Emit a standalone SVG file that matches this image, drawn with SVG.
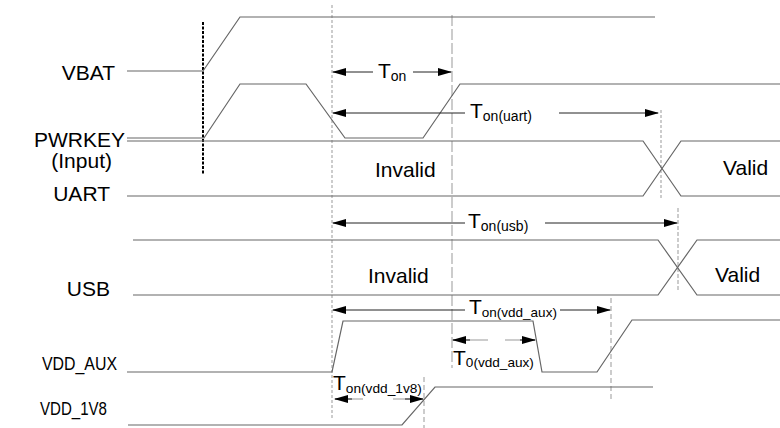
<svg xmlns="http://www.w3.org/2000/svg" width="780" height="428" viewBox="0 0 780 428">
<style>
.lbl{font-family:"Liberation Sans",Arial,sans-serif;font-size:21px;fill:#000}
.sub{font-size:14px}
.sig{fill:none;stroke:#666;stroke-width:1.2}
.dim{fill:none;stroke:#222;stroke-width:1}
.vd{fill:none;stroke:#999;stroke-width:1}
</style>
<defs>
<marker id="ah" viewBox="0 0 14 8" refX="13" refY="4" markerWidth="14" markerHeight="8" markerUnits="userSpaceOnUse" orient="auto-start-reverse">
<path d="M0,0 L14,4 L0,8 z" fill="#000"/>
</marker>
</defs>
<rect width="780" height="428" fill="#fff"/>

<g id="guides">
<line x1="203" y1="22" x2="203" y2="174" stroke="#000" stroke-width="2" stroke-dasharray="3 1.5"/>
<line class="vd" x1="332" y1="5" x2="332" y2="418" stroke="#bbb" stroke-dasharray="3 2"/>
<line class="vd" x1="452" y1="15" x2="452" y2="368" stroke="#777" stroke-dasharray="11 3"/>
<line class="vd" x1="661" y1="110" x2="661" y2="200" stroke="#aaa" stroke-dasharray="3 2"/>
<line class="vd" x1="678" y1="208" x2="678" y2="290" stroke="#888" stroke-dasharray="4 2"/>
<line class="vd" x1="611" y1="298" x2="611" y2="400" stroke="#777" stroke-dasharray="5 3"/>
<line class="vd" x1="424" y1="377" x2="424" y2="428" stroke="#777" stroke-dasharray="5 3"/>
</g>

<g id="vbat">
<text class="lbl" x="115" y="80" text-anchor="end">VBAT</text>
<polyline class="sig" points="127,71 203,71 240,17 655,17"/>
</g>

<g id="pwrkey">
<text class="lbl" x="125" y="147" text-anchor="end">PWRKEY</text>
<text class="lbl" x="112" y="168" text-anchor="end">(Input)</text>
<polyline class="sig" points="127,138 204,138 240,84 306,84 345,138 423,138 460,84 780,84"/>
</g>

<g id="uart">
<text class="lbl" x="110" y="201" text-anchor="end">UART</text>
<polyline class="sig" points="127,141 643,141 681,196 780,196"/>
<polyline class="sig" points="127,196 643,196 681,141 780,141"/>
<text class="lbl" x="375" y="177">Invalid</text>
<text class="lbl" x="723" y="175">Valid</text>
</g>

<g id="usb">
<text class="lbl" x="110" y="296" text-anchor="end">USB</text>
<polyline class="sig" points="133,240 658,240 697,295 780,295"/>
<polyline class="sig" points="133,295 658,295 697,240 780,240"/>
<text class="lbl" x="368" y="283">Invalid</text>
<text class="lbl" x="715" y="282">Valid</text>
</g>

<g id="vdd_aux">
<text class="lbl" x="42" y="370" textLength="75" lengthAdjust="spacingAndGlyphs" style="font-size:19px">VDD_AUX</text>
<polyline class="sig" points="127,372 332,372 343,321 533,321 542,372 597,372 632,320 780,320"/>
</g>

<g id="vdd_1v8">
<text class="lbl" x="40" y="415" textLength="67" lengthAdjust="spacingAndGlyphs" style="font-size:17.5px">VDD_1V8</text>
<polyline class="sig" points="128,425 402,425 435,387 653,387"/>
</g>

<g id="connectors">
<line class="dim" x1="373" y1="72" x2="333" y2="72" marker-end="url(#ah)"/>
<line class="dim" x1="413" y1="72" x2="451" y2="72" marker-end="url(#ah)"/>
<line class="dim" x1="465" y1="113" x2="333" y2="113" marker-end="url(#ah)"/>
<line class="dim" x1="559" y1="113" x2="658" y2="113" marker-end="url(#ah)"/>
<line class="dim" x1="465" y1="223" x2="333" y2="223" marker-end="url(#ah)"/>
<line class="dim" x1="545" y1="223" x2="677" y2="223" marker-end="url(#ah)"/>
<line class="dim" x1="465" y1="310" x2="333" y2="310" marker-end="url(#ah)"/>
<line class="dim" x1="560" y1="310" x2="610" y2="310" marker-end="url(#ah)"/>
<line x1="453" y1="340" x2="535" y2="340" stroke="#999" stroke-width="1" stroke-dasharray="35 17"/>
<line class="dim" x1="470" y1="340" x2="453" y2="340" marker-end="url(#ah)"/>
<line class="dim" x1="520" y1="340" x2="535" y2="340" marker-end="url(#ah)"/>
<line x1="335" y1="399" x2="423" y2="399" stroke="#999" stroke-width="1" stroke-dasharray="28 30"/>
<line class="dim" x1="352" y1="399" x2="335" y2="399" marker-end="url(#ah)"/>
<line class="dim" x1="405" y1="399" x2="423" y2="399" marker-end="url(#ah)"/>
</g>

<g id="labels">
<text class="lbl" x="378" y="78">T<tspan class="sub" dy="3">on</tspan></text>
<text class="lbl" x="470" y="118">T<tspan class="sub" dy="3">on(uart)</tspan></text>
<text class="lbl" x="468" y="228">T<tspan class="sub" dy="3">on(usb)</tspan></text>
<text class="lbl" x="469" y="314">T<tspan class="sub" dy="3" style="font-size:13.5px">on(vdd_aux)</tspan></text>
<text class="lbl" x="453" y="365">T<tspan class="sub" dy="2" style="font-size:13.6px">0(vdd_aux)</tspan></text>
<text class="lbl" x="333" y="390">T<tspan class="sub" dy="3" style="font-size:13.7px">on(vdd_1v8)</tspan></text>
</g>
</svg>
